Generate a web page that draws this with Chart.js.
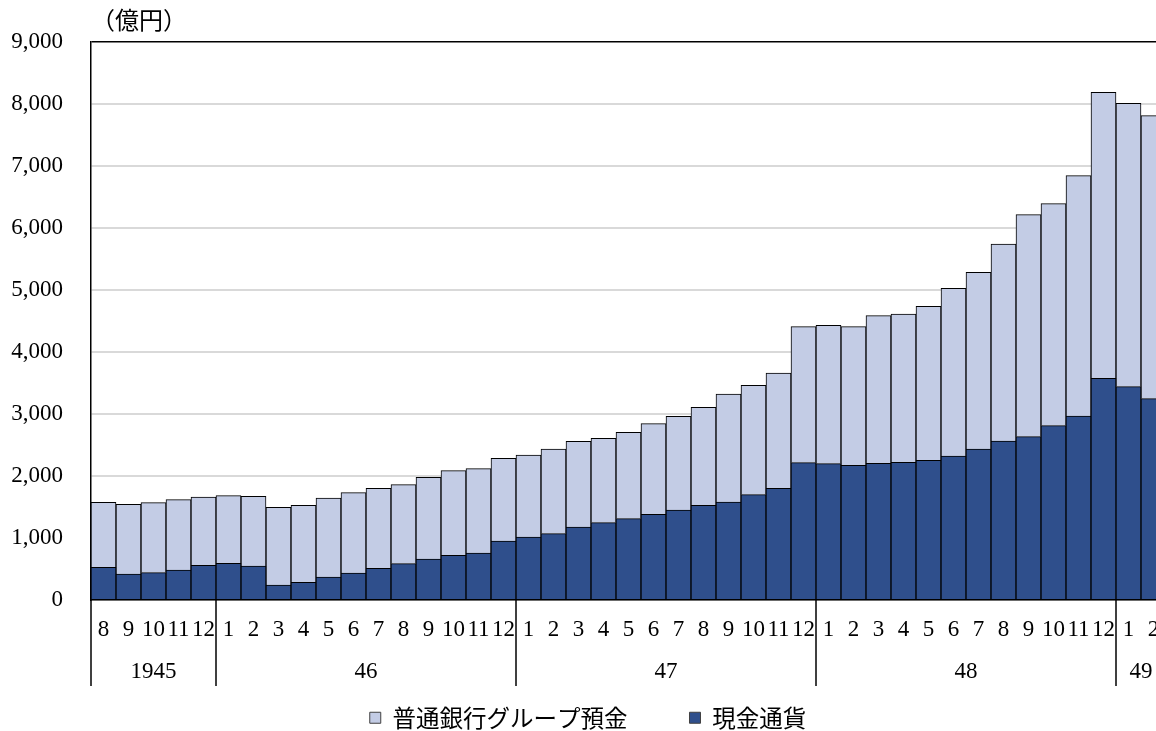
<!DOCTYPE html>
<html lang="ja">
<head>
<meta charset="utf-8">
<title>現金通貨と普通銀行グループ預金</title>
<script src="https://cdn.jsdelivr.net/npm/chart.js@4/dist/chart.umd.min.js"></script>
<style>
  html, body { margin: 0; padding: 0; background: #ffffff; overflow: hidden; }
  #wrap { width: 1180px; height: 731px; }
</style>
</head>
<body>
<div id="wrap"><canvas id="chart" width="1180" height="731"></canvas></div>
<script>
// Months, 1945/8 – 1949/2
const months = [
  '8','9','10','11','12',
  '1','2','3','4','5','6','7','8','9','10','11','12',
  '1','2','3','4','5','6','7','8','9','10','11','12',
  '1','2','3','4','5','6','7','8','9','10','11','12',
  '1','2'
];

// Year groups: label and number of months in each
const yearLabels = ['1945', '46', '47', '48', '49'];
const yearSpans = [5, 12, 12, 12, 2];

// 現金通貨（億円）
const currency = [
  527, 419, 441, 484, 559,
  591, 548, 242, 285, 371, 435, 511, 586, 661, 720, 758, 952,
  1016, 1070, 1177, 1247, 1312, 1382, 1452, 1527, 1581, 1699, 1801, 2215,
  2199, 2172, 2204, 2220, 2253, 2323, 2435, 2565, 2634, 2812, 2968, 3575,
  3441, 3247
];

// 普通銀行グループ預金（億円）
const deposits = [
  1049, 1125, 1129, 1134, 1102,
  1092, 1124, 1253, 1242, 1274, 1296, 1290, 1274, 1317, 1366, 1360, 1333,
  1323, 1365, 1382, 1361, 1392, 1462, 1510, 1581, 1742, 1763, 1860, 2194,
  2231, 2237, 2382, 2393, 2484, 2704, 2850, 3177, 3581, 3580, 3876, 4613,
  4570, 4565
];

const yTicks = [0, 1000, 2000, 3000, 4000, 5000, 6000, 7000, 8000, 9000];

const SERIF = '"Liberation Serif", "Times New Roman", serif';
const JP = '"Noto Sans CJK JP", "Noto Sans", sans-serif';

// Unit caption, year row and year dividers under the month ticks
const yearRow = {
  id: 'yearRow',
  afterDraw(chart) {
    const {ctx, chartArea, scales} = chart;
    const x = scales.x;
    const half = (x.getPixelForValue(1) - x.getPixelForValue(0)) / 2;
    ctx.save();
    ctx.fillStyle = '#000';
    ctx.font = '24px ' + JP;
    ctx.textAlign = 'left';
    ctx.textBaseline = 'middle';
    ctx.fillText('（億円）', 91, 20);

    ctx.strokeStyle = '#000';
    ctx.lineWidth = 1.5;
    ctx.font = '23px ' + SERIF;
    ctx.textAlign = 'center';
    let idx = 0;
    yearSpans.forEach((span, i) => {
      const left = x.getPixelForValue(idx) - half;
      const right = x.getPixelForValue(idx + span - 1) + half;
      ctx.beginPath();
      ctx.moveTo(left, chartArea.bottom);
      ctx.lineTo(left, 686);
      ctx.stroke();
      ctx.fillText(yearLabels[i], (left + right) / 2, 672);
      idx += span;
    });
    ctx.restore();
  }
};

new Chart(document.getElementById('chart'), {
  type: 'bar',
  data: {
    labels: months,
    datasets: [
      {
        label: '現金通貨',
        data: currency,
        backgroundColor: '#2f4f8c',
        borderColor: '#000000',
        borderWidth: 1,
        barPercentage: 1,
        categoryPercentage: 1
      },
      {
        label: '普通銀行グループ預金',
        data: deposits,
        backgroundColor: '#c3cce5',
        borderColor: '#000000',
        borderWidth: 1,
        barPercentage: 1,
        categoryPercentage: 1
      }
    ]
  },
  options: {
    responsive: false,
    animation: false,
    devicePixelRatio: 1,
    layout: { padding: { top: 42, right: 14, left: 10, bottom: 0 } },
    plugins: {
      tooltip: { enabled: false },
      legend: {
        position: 'bottom',
        reverse: true,
        maxHeight: 87,
        labels: {
          color: '#000',
          font: { family: JP, size: 23.5 },
          boxWidth: 11,
          boxHeight: 11,
          padding: 62,
          generateLabels(chart) {
            const items = Chart.defaults.plugins.legend.labels.generateLabels(chart);
            items.forEach(it => { it.lineWidth = 1; it.strokeStyle = '#404040'; });
            return items;
          }
        }
      }
    },
    scales: {
      x: {
        stacked: true,
        offset: true,
        grid: { display: false, drawTicks: false },
        border: { display: true, color: '#000', width: 1.5 },
        ticks: {
          autoSkip: false,
          maxRotation: 0,
          minRotation: 0,
          padding: 16,
          color: '#000',
          font: { family: SERIF, size: 23 }
        },
        afterFit(scale) {
          const lg = scale.chart.legend;
          scale.height = scale.chart.height - (lg ? lg.height : 0) - 600;
        }
      },
      y: {
        stacked: true,
        min: 0,
        max: 9000,
        afterBuildTicks(scale) {
          scale.ticks = yTicks.map(v => ({ value: v }));
        },
        grid: {
          drawTicks: false,
          color: ctx => (ctx.tick && ctx.tick.value === 9000) ? '#000' : '#d9d9d9',
          lineWidth: ctx => (ctx.tick && ctx.tick.value === 9000) ? 1.5 : 2
        },
        border: { display: true, color: '#000', width: 1.5 },
        ticks: {
          padding: 28,
          color: '#000',
          font: { family: SERIF, size: 23 },
          callback: v => v.toLocaleString('en-US')
        },
        afterFit(scale) { scale.width = 81; }
      }
    }
  },
  plugins: [yearRow]
});
</script>
</body>
</html>
